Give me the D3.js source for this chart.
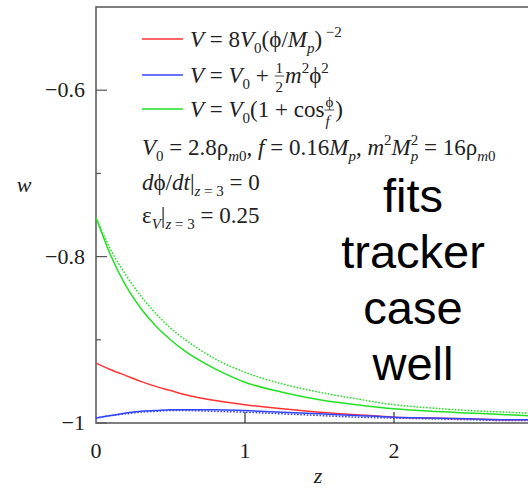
<!DOCTYPE html>
<html>
<head>
<meta charset="utf-8">
<script src="https://cdn.jsdelivr.net/npm/d3@7"></script>
<style>
  body { margin: 0; background: #fff; }
  svg { display: block; }
  .serif { font-family: "Liberation Serif", "Times New Roman", "DejaVu Serif", serif; }
  .sans { font-family: "Liberation Sans", Arial, sans-serif; }
</style>
</head>
<body>
<div id="chart"></div>
<script>
// values
const zValues = [0, 0.1, 0.2, 0.3, 0.4, 0.5, 0.6, 0.8, 1.0, 1.25, 1.5, 1.75, 2.0, 2.25, 2.5, 2.75, 3.0];
const wRed = [-0.928, -0.936, -0.943, -0.950, -0.956, -0.961, -0.966, -0.973, -0.978, -0.983, -0.987, -0.990, -0.993, -0.994, -0.995, -0.996, -0.996];
const wBlue = [-0.994, -0.991, -0.988, -0.986, -0.985, -0.984, -0.984, -0.984, -0.985, -0.987, -0.989, -0.991, -0.993, -0.994, -0.995, -0.996, -0.996];
const wBlueDot = [-0.994, -0.991, -0.989, -0.987, -0.986, -0.985, -0.985, -0.986, -0.987, -0.989, -0.991, -0.993, -0.994, -0.995, -0.996, -0.997, -0.997];
const wGreen = [-0.753, -0.799, -0.835, -0.862, -0.883, -0.900, -0.914, -0.935, -0.951, -0.963, -0.972, -0.978, -0.983, -0.986, -0.988, -0.990, -0.992];
const wGreenDot = [-0.753, -0.792, -0.822, -0.847, -0.868, -0.886, -0.900, -0.923, -0.939, -0.953, -0.963, -0.971, -0.978, -0.982, -0.985, -0.987, -0.989];
const xTicks = [0, 1, 2];
const yTicks = [-1, -0.8, -0.6];
const yMinor = [-0.9, -0.7];
const note = ["fits", "tracker", "case", "well"];

const width = 528, height = 489;

const svg = d3.select("#chart").append("svg")
    .attr("width", width)
    .attr("height", height);

const x = d3.scaleLinear().domain([0, 3]).range([96, 543]);
const y = d3.scaleLinear().domain([-1, -0.5]).range([423, 7]);

// frame
svg.append("path")
    .attr("d", `M${x(3)},${y(-0.5)}H${x(0)}V${y(-1)}H${x(3)}`)
    .attr("fill", "none")
    .attr("stroke", "#555")
    .attr("stroke-width", 1.5);

// ticks inside
svg.selectAll(".ytick").data(yTicks).enter().append("line")
    .attr("x1", x(0)).attr("x2", x(0) + 11)
    .attr("y1", d => y(d)).attr("y2", d => y(d))
    .attr("stroke", "#555").attr("stroke-width", 1.2);
svg.selectAll(".yminor").data(yMinor).enter().append("line")
    .attr("x1", x(0)).attr("x2", x(0) + 5)
    .attr("y1", d => y(d)).attr("y2", d => y(d))
    .attr("stroke", "#555").attr("stroke-width", 1.2);
svg.selectAll(".xtick").data(xTicks.filter(d => d > 0)).enter().append("line")
    .attr("x1", d => x(d)).attr("x2", d => x(d))
    .attr("y1", y(-1)).attr("y2", y(-1) - 11)
    .attr("stroke", "#333").attr("stroke-width", 1.2);

// tick labels
svg.selectAll(".ylab").data(yTicks).enter().append("text")
    .attr("class", "serif")
    .attr("x", 85).attr("y", d => y(d) + 7)
    .attr("text-anchor", "end")
    .attr("font-size", 22).attr("fill", "#222")
    .text(d => String(d).replace("-", "\u2212"));
svg.selectAll(".xlab").data(xTicks).enter().append("text")
    .attr("class", "serif")
    .attr("x", d => x(d)).attr("y", 458)
    .attr("text-anchor", "middle")
    .attr("font-size", 22).attr("fill", "#222")
    .text(d => d);

svg.append("text").attr("class", "serif").attr("x", 24).attr("y", 192).attr("text-anchor", "middle")
    .attr("font-style", "italic").attr("font-size", 22).attr("fill", "#222")
    .text("w");
svg.append("text").attr("class", "serif").attr("x", 318).attr("y", 483).attr("text-anchor", "middle")
    .attr("font-style", "italic").attr("font-size", 22).attr("fill", "#222")
    .text("z");

// curves
const line = d3.line().x((d, i) => x(zValues[i])).y(d => y(d)).curve(d3.curveMonotoneX);
const curves = [
    { v: wGreenDot, c: "#22e022", dash: "1.6,1.6" },
    { v: wBlueDot, c: "#3344ff", dash: "1.6,1.6" },
    { v: wGreen, c: "#22e022" },
    { v: wRed, c: "#ff3333" },
    { v: wBlue, c: "#3344ff" }
];
svg.selectAll(".curve").data(curves).enter().append("path")
    .attr("d", d => line(d.v))
    .attr("fill", "none")
    .attr("stroke", d => d.c)
    .attr("stroke-width", 1.5)
    .attr("stroke-dasharray", d => d.dash || null);

// math text helper: parts = [text, opts]
const big = 23, small = 15;
function addText(cx, cy, t, size, italic) {
    return svg.append("text").attr("class", "serif").attr("x", cx).attr("y", cy)
        .attr("font-size", size)
        .attr("font-style", italic ? "italic" : null)
        .attr("fill", "#222")
        .style("white-space", "pre")
        .text(t);
}
function mathLine(x0, y0, parts) {
    let cx = x0;
    parts.forEach(p => {
        const [t, o] = p;
        const opt = o || "";
        if (opt === "frac") {
            const n = addText(cx + 1, y0 - 10, t[0], small, false);
            const d = addText(cx + 1, y0 + 9, t[1], small, t[2]);
            const w = Math.max(n.node().getComputedTextLength(), d.node().getComputedTextLength()) + 2;
            svg.append("line").attr("x1", cx).attr("x2", cx + w).attr("y1", y0 - 7).attr("y2", y0 - 7)
                .attr("stroke", "#222").attr("stroke-width", 0.8);
            cx += w + 1;
            return;
        }
        if (opt === "subsup") {
            const a = addText(cx, y0 + 6, t[0], small, true);
            const b = addText(cx, y0 - 10, t[1], small, false);
            cx += Math.max(a.node().getComputedTextLength(), b.node().getComputedTextLength());
            return;
        }
        const isSmall = opt.includes("sub") || opt.includes("sup");
        const dy = opt.includes("sub") ? 6 : opt.includes("sup") ? -10 : 0;
        const el = addText(cx, y0 + dy, t, isSmall ? small : big, opt.includes("i"));
        cx += el.node().getComputedTextLength();
    });
}

const phi = "\u03d5";
const legend = [
    { c: "#ff3333", y: 39, parts: [["V", "i"], [" = 8"], ["V", "i"], ["0", "sub"], ["(" + phi + "/"], ["M", "i"], ["p", "isub"], [")"], [" \u22122", "sup"]] },
    { c: "#3344ff", y: 75, parts: [["V", "i"], [" = "], ["V", "i"], ["0", "sub"], [" + "], [["1", "2"], "frac"], ["m", "i"], ["2", "sup"], [phi], ["2", "sup"]] },
    { c: "#22e022", y: 109, parts: [["V", "i"], [" = "], ["V", "i"], ["0", "sub"], ["(1 + cos"], [[phi, "f", true], "frac"], [")"]] }
];
legend.forEach(l => {
    svg.append("line").attr("x1", 142).attr("x2", 183).attr("y1", l.y).attr("y2", l.y)
        .attr("stroke", l.c).attr("stroke-width", 1.5);
    mathLine(190, l.y + 8, l.parts);
});

mathLine(142, 155, [["V", "i"], ["0", "sub"], [" = 2.8\u03c1"], ["m", "isub"], ["0", "sub"], [", "], ["f", "i"], [" = 0.16"], ["M", "i"], ["p", "isub"], [", "], ["m", "i"], ["2", "sup"], ["M", "i"], [["p", "2"], "subsup"], [" = 16\u03c1"], ["m", "isub"], ["0", "sub"]]);
mathLine(142, 190, [["d", "i"], [phi + "/"], ["dt", "i"], ["|"], ["z", "isub"], [" = 3", "sub"], [" = 0"]]);
mathLine(142, 223, [["\u03b5"], ["V", "isub"], ["|"], ["z", "isub"], [" = 3", "sub"], [" = 0.25"]]);

// annotation
svg.selectAll(".note").data(note).enter().append("text")
    .attr("class", "sans")
    .attr("x", 413)
    .attr("y", (d, i) => 212 + i * 56)
    .attr("text-anchor", "middle")
    .attr("font-size", 47)
    .attr("fill", "#000")
    .text(d => d);
</script>
</body>
</html>
